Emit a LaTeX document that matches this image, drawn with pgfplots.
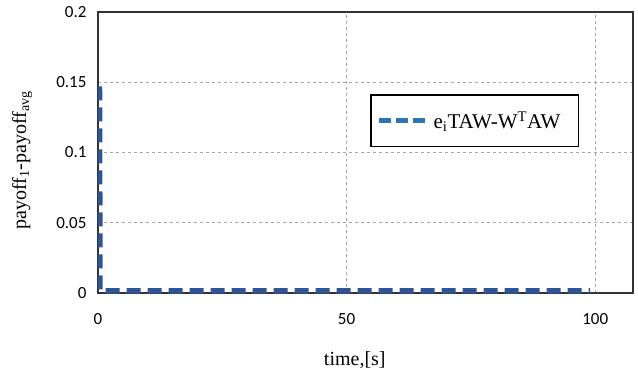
\documentclass[border=0pt]{standalone}
\usepackage{fontspec}
\setmainfont{Liberation Serif}
\newfontfamily\tickfont{Carlito}
\usepackage{pgfplots}
\pgfplotsset{compat=1.18}
\definecolor{serblue}{RGB}{47,85,151}
\definecolor{legblue}{RGB}{46,117,182}
\definecolor{gridgray}{RGB}{165,165,165}
\begin{document}
\begin{tikzpicture}
\useasboundingbox (-98bp,-83bp) rectangle (540bp,293bp);
\begin{axis}[
  at={(0,0)}, anchor=south west,
  scale only axis, width=535bp, height=281bp,
  xmin=0, xmax=107.6, ymin=0, ymax=0.2,
  xtick={0,50,100}, ytick={0,0.05,0.1,0.15,0.2},
  yticklabels={0,0.05,0.1,0.15,0.2},
  major tick length=0pt,
  axis line style={draw=black!80, line width=1.1bp},
  grid=major,
  major grid style={gridgray, dashed, line width=0.6bp},
  tick label style={font=\tickfont\fontsize{17bp}{19bp}\selectfont},
  /pgf/number format/assume math mode=true,
  xticklabel style={yshift=-17bp},
  yticklabel style={xshift=-8bp},
  xlabel={time,[s]},
  ylabel={payoff\textsubscript{1}-payoff\textsubscript{avg}},
  label style={font=\fontsize{20bp}{23bp}\selectfont},
  xlabel style={at={(axis description cs:0.48,0)}, anchor=center, yshift=-67bp},
  ylabel style={at={(axis description cs:-0.142,0.473)}, anchor=center},
  legend style={at={(rel axis cs:0.508,0.708)}, anchor=north west,
    draw=black, line width=1.8bp, inner xsep=6bp, inner ysep=14.5bp,
    font=\fontsize{21bp}{24bp}\selectfont},
  legend image code/.code={\draw[legblue, line width=5bp, dash pattern=on 12bp off 5bp] (0bp,0bp) -- (50bp,0bp);},
  legend cell align=left,
]
\addplot[serblue, line width=5.5bp, dash pattern=on 14bp off 7bp]
  coordinates {(0.3,0.147) (0.4,0.0015) (99,0.0015)};
\addlegendentry{e\textsubscript{i}TAW-W\textsuperscript{T}AW\rule{10bp}{0pt}}
\end{axis}
\end{tikzpicture}
\end{document}
